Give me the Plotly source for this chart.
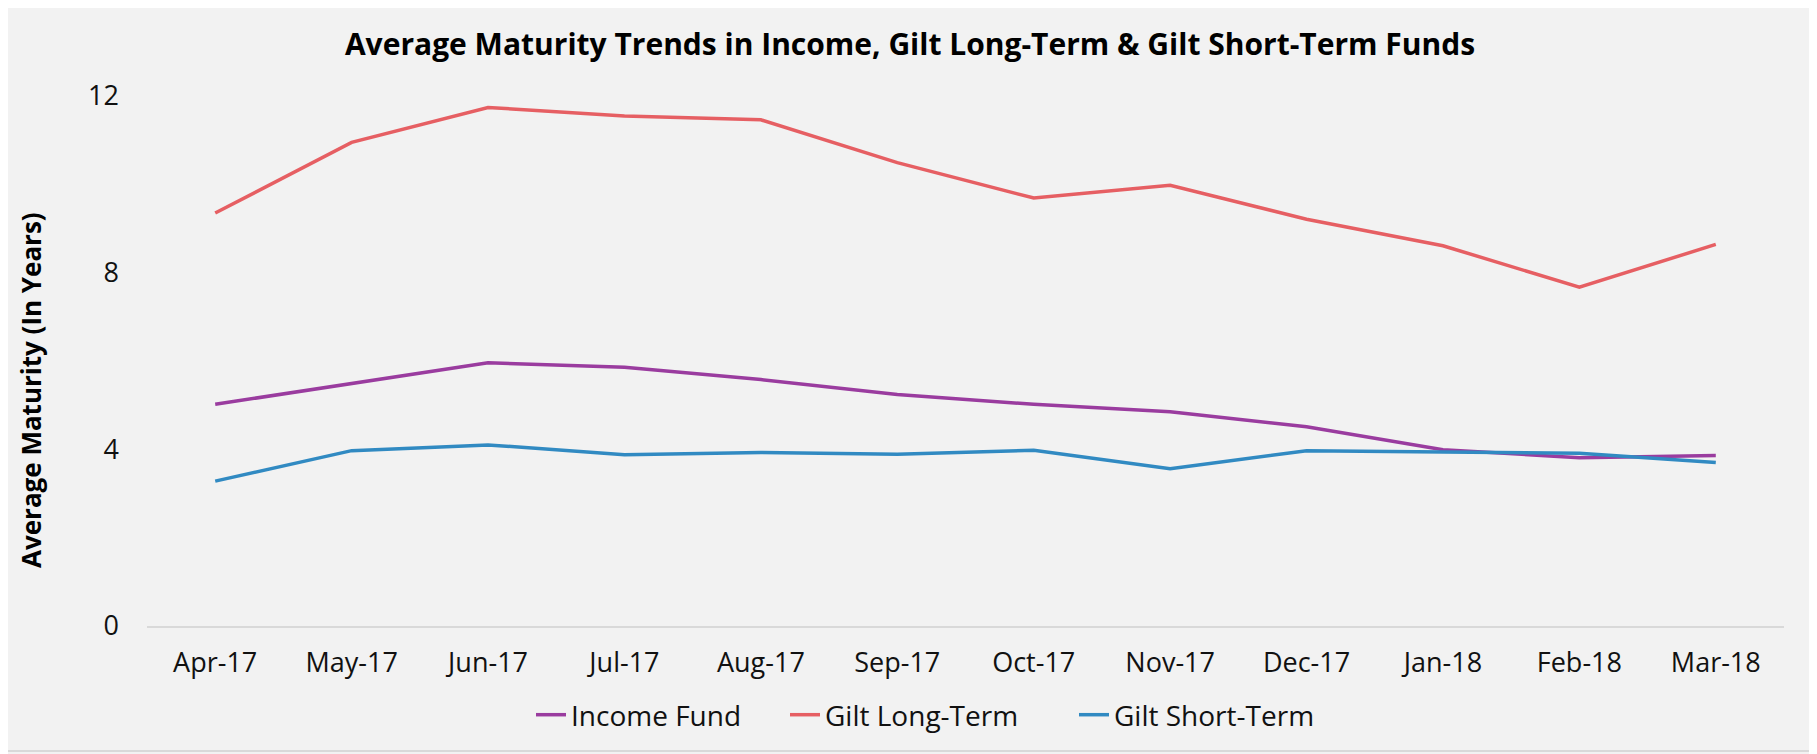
import plotly.graph_objects as go

months = ["Apr-17", "May-17", "Jun-17", "Jul-17", "Aug-17", "Sep-17",
          "Oct-17", "Nov-17", "Dec-17", "Jan-18", "Feb-18", "Mar-18"]
income_fund = [5.02, 5.49, 5.96, 5.86, 5.58, 5.24, 5.02, 4.85, 4.51, 3.99, 3.81, 3.86]
gilt_long = [9.35, 10.95, 11.74, 11.55, 11.46, 10.49, 9.69, 9.98, 9.21, 8.61, 7.67, 8.64]
gilt_short = [3.28, 3.97, 4.10, 3.88, 3.93, 3.89, 3.98, 3.56, 3.97, 3.94, 3.91, 3.70]

y_ticks = [0, 4, 8, 12]

FONT = "Open Sans"

# page body has an 8px margin; work in window coordinates and shift
OFF = 8
W, H = 1817 - OFF, 754 - OFF
L, R, T, B = 147 - OFF, 33, 96 - OFF, 128
pw, ph = W - L - R, H - T - B

def px(x):
    return (x - OFF - L) / pw

def py(y):
    return (H - B - (y - OFF)) / ph

series = [("Income Fund", income_fund, "#9A3C9F", "legend", 571),
          ("Gilt Long-Term", gilt_long, "#E65F63", "legend2", 825),
          ("Gilt Short-Term", gilt_short, "#318AC2", "legend3", 1114)]

fig = go.Figure()
for name, vals, col, lg, _ in series:
    fig.add_trace(go.Scatter(x=months, y=vals, name=name, mode="lines",
                             line=dict(color=col, width=3.5), legend=lg))

legends = {}
for name, vals, col, lg, text_x in series:
    legends[lg] = dict(orientation="h", x=px(text_x - 40), xanchor="left",
                       y=py(715), yanchor="middle",
                       font=dict(family=FONT, size=28, color="#111111"),
                       bgcolor="rgba(0,0,0,0)", itemwidth=30)

fig.update_layout(
    width=W, height=H,
    paper_bgcolor="#F2F2F2", plot_bgcolor="#F2F2F2",
    margin=dict(l=L, r=R, t=T, b=B),
    title=dict(text="<b>Average Maturity Trends in Income, Gilt Long-Term & Gilt Short-Term Funds</b>",
               x=px(910), xref="paper", xanchor="center",
               y=1 - (44 - OFF) / H, yref="container", yanchor="middle",
               font=dict(family=FONT, size=30, color="#000000")),
    xaxis=dict(showgrid=False, showline=True, linecolor="#D9D9D9", linewidth=2,
               range=[-0.5, len(months) - 0.5],
               ticks="", tickfont=dict(family=FONT, size=27, color="#111111"),
               ticklabelstandoff=12, zeroline=False),
    yaxis=dict(range=[0, 12], tickvals=y_ticks, showgrid=False, showline=False,
               zeroline=False, ticks="",
               tickfont=dict(family=FONT, size=27, color="#111111"),
               ticklabelstandoff=27),
    showlegend=True,
    **legends,
)

fig.add_annotation(text="<b>Average Maturity (In Years)</b>", textangle=-90,
                   xref="paper", yref="paper", x=px(31), y=py(390),
                   xanchor="center", yanchor="middle", showarrow=False,
                   font=dict(family=FONT, size=26, color="#000000"))

fig.add_shape(type="rect", xref="paper", yref="paper",
              x0=px(4), x1=px(1813), y0=py(751), y1=py(3),
              line=dict(color="#D9D9D9", width=2), fillcolor="rgba(0,0,0,0)",
              layer="below")

fig.write_html("out.html")
